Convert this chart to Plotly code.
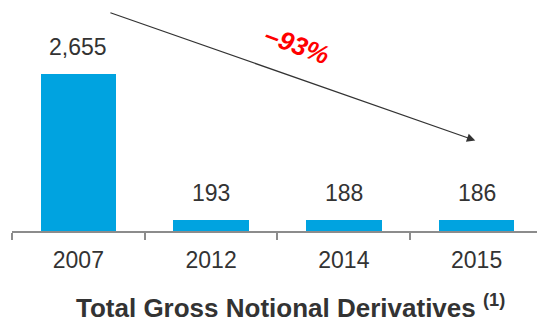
import plotly.graph_objects as go

years = ["2007", "2012", "2014", "2015"]
notional = [2655, 193, 188, 186]
value_labels = ["2,655", "193", "188", "186"]
change_label = "–93%"
title_text = "Total Gross Notional Derivatives <sup>(1)</sup>"

FONT = "Liberation Sans, Arial, sans-serif"
BAR_COLOR = "#00A3E0"
TEXT_COLOR = "#333333"
AXIS_COLOR = "#8C8C8C"

x_pos = list(range(len(years)))
boundaries = [i - 0.5 for i in range(len(years) + 1)]

fig = go.Figure()
fig.add_trace(go.Bar(
    x=x_pos, y=notional, width=0.57,
    marker=dict(color=BAR_COLOR, line=dict(width=0)),
    hoverinfo="skip",
))

# value labels above each bar
for xi, v, lab in zip(x_pos, notional, value_labels):
    fig.add_annotation(
        x=xi, y=v, text=lab, showarrow=False, yanchor="bottom", yshift=12,
        font=dict(family=FONT, size=23, color=TEXT_COLOR),
    )

# downward trend arrow with percentage change
fig.add_annotation(
    x=2.99, y=1530, ax=0.23, ay=3700, xref="x", yref="y", axref="x", ayref="y",
    text="", showarrow=True, arrowhead=2, arrowsize=1.4, arrowwidth=1.2,
    arrowcolor="#333333",
)
fig.add_annotation(
    x=1.65, y=3150, text="<b><i>" + change_label + "</i></b>", showarrow=False,
    textangle=20, font=dict(family=FONT, size=26, color="#FF0000"),
)

# chart title below the axis
fig.add_annotation(
    x=285 / 537, y=0, xref="paper", yref="paper", yanchor="middle",
    text="<b>" + title_text + "</b>", showarrow=False, yshift=-(306 - 231),
    font=dict(family=FONT, size=26, color=TEXT_COLOR),
)

fig.update_xaxes(
    type="linear",
    range=[-0.5, 3.455],
    tickvals=x_pos, ticktext=years,
    showline=True, linecolor=AXIS_COLOR, linewidth=2,
    ticks="outside", ticklen=7, tickwidth=1, tickcolor="rgba(0,0,0,0)",
    minor=dict(tickvals=boundaries, ticks="outside", ticklen=7,
               tickwidth=1.5, tickcolor=AXIS_COLOR, showgrid=False),
    showgrid=False, zeroline=False,
    tickfont=dict(family=FONT, size=23, color=TEXT_COLOR),
)
fig.update_yaxes(range=[0, 3906], visible=False, showgrid=False)

fig.update_layout(
    width=537, height=322,
    margin=dict(l=12, r=0, t=0, b=91),
    plot_bgcolor="white", paper_bgcolor="white",
    showlegend=False, bargap=0,
)

fig.write_html("out.html")
